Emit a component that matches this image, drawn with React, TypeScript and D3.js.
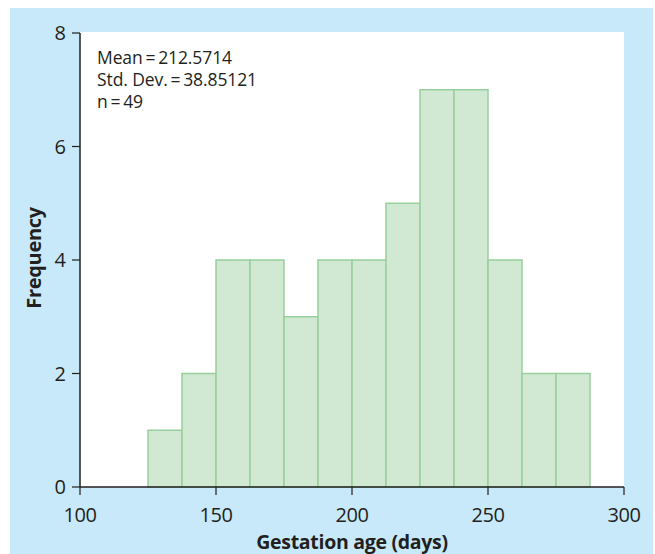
import React from 'react';
import * as d3 from 'd3';

// histogram bins (days) and counts
const binStarts = [125, 137.5, 150, 162.5, 175, 187.5, 200, 212.5, 225, 237.5, 250, 262.5, 275];
const binWidth = 12.5;
const counts = [1, 2, 4, 4, 3, 4, 4, 5, 7, 7, 4, 2, 2];
const xTicks = [100, 150, 200, 250, 300];
const yTicks = [0, 2, 4, 6, 8];
const statLines = ['Mean\u2009=\u2009212.5714', 'Std. Dev.\u2009=\u200938.85121', 'n\u2009=\u200949'];

export default function App() {
    const width = 655;
    const height = 554;
    const left = 80;
    const right = 624;
    const top = 33;
    const bottom = 487;

    const x = d3.scaleLinear().domain([100, 300]).range([left, right]);
    const y = d3.scaleLinear().domain([0, 8]).range([bottom, top]);

    const font = "'Open Sans', 'Noto Sans', sans-serif";
    const ink = '#231f20';

    return (
        <svg width={width} height={height} style={{position: 'absolute', left: 0, top: 0}}>
            <rect x={0} y={0} width={width} height={height} fill="#fff" />
            <rect x={10} y={8} width={643} height={height - 8} fill="#c7e9f9" />
            <rect x={left} y={top - 1} width={right - left} height={bottom - top + 1} fill="#fff" />

            {binStarts.map((b, i) => (
                <rect key={i}
                      x={x(b)}
                      y={y(counts[i])}
                      width={x(b + binWidth) - x(b)}
                      height={y(0) - y(counts[i])}
                      fill="#d1e9d3"
                      stroke="#97d09d"
                      strokeWidth={1.5} />
            ))}

            {/* y axis */}
            <line x1={left} x2={left} y1={top} y2={bottom} stroke={ink} strokeWidth={1.5} />
            {yTicks.map(t => (
                <g key={t} transform={'translate(0,' + y(t) + ')'}>
                    <line x1={left - 8} x2={left} stroke={ink} strokeWidth={1.2} />
                    <text x={left - 14} dy="0.36em" textAnchor="end" fontFamily={font} fontSize={20} fill={ink}>{t}</text>
                </g>
            ))}

            {/* x axis */}
            <line x1={left} x2={right} y1={bottom} y2={bottom} stroke={ink} strokeWidth={1.5} />
            {xTicks.map(t => (
                <g key={t} transform={'translate(' + x(t) + ',0)'}>
                    <line y1={bottom} y2={bottom + 8} stroke={ink} strokeWidth={1.2} />
                    <text y={bottom + 35} textAnchor="middle" fontFamily={font} fontSize={20} fill={ink}
                          letterSpacing={-0.5}>{t}</text>
                </g>
            ))}

            <text x={352} y={549} textAnchor="middle" fontFamily={font} fontWeight="bold" fontSize={19.5} fill={ink}
                  letterSpacing={-0.3}>
                Gestation age (days)
            </text>
            <text transform="translate(41,258) rotate(-90)" textAnchor="middle" fontFamily={font} fontWeight="bold"
                  fontSize={20} fill={ink} letterSpacing={-0.3}>Frequency</text>

            {statLines.map((s, i) => (
                <text key={i} x={97} y={64 + i * 22} fontFamily={font} fontSize={17.5} fill={ink}
                      letterSpacing={-0.1}>{s}</text>
            ))}
        </svg>
    );
}
